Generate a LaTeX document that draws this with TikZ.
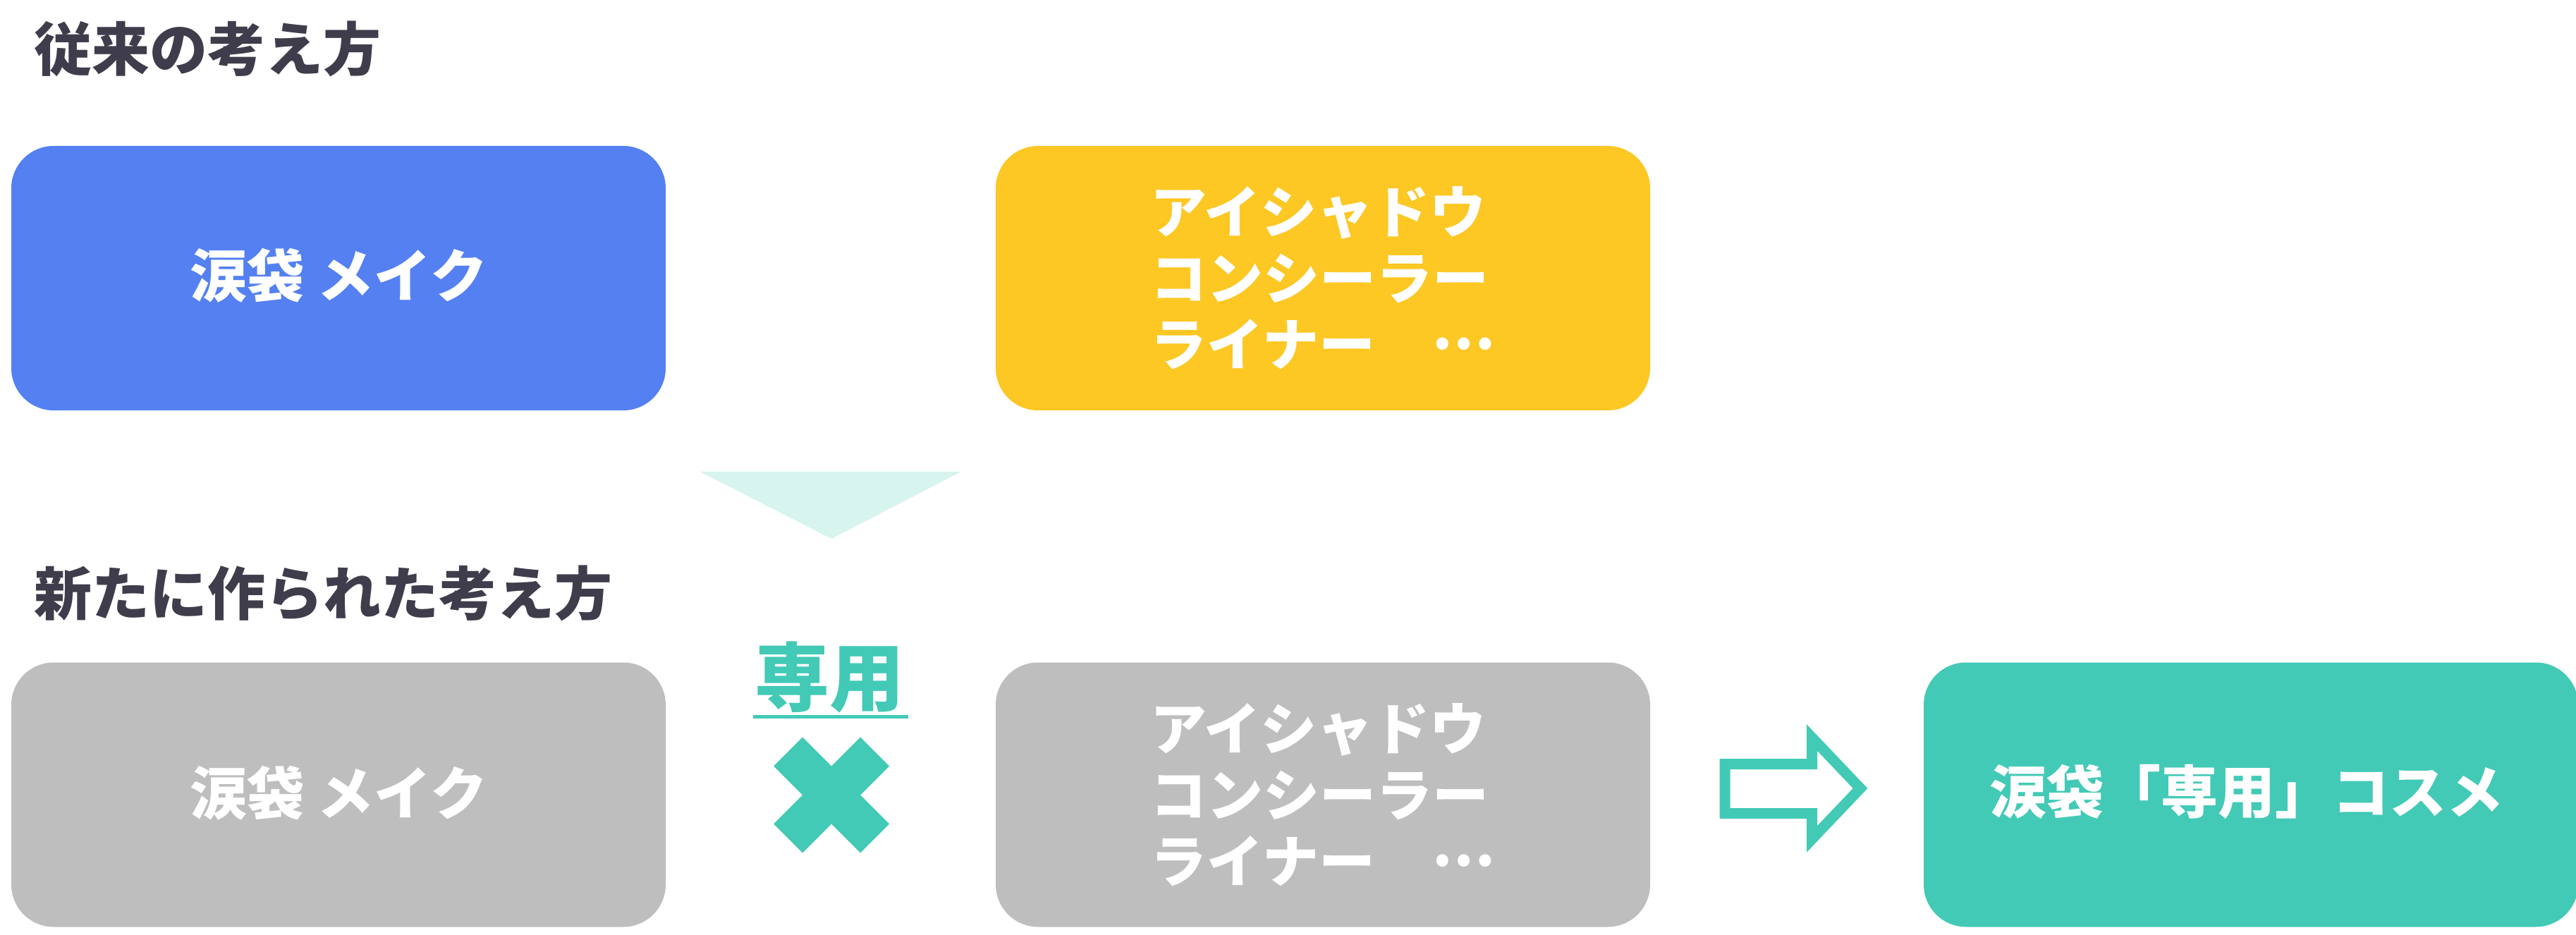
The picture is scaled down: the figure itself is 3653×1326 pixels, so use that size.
\documentclass[tikz,border=0pt]{standalone}
\usepackage{fontspec}
\setmainfont{Noto Sans CJK JP}
\newfontfamily\jp{Noto Sans CJK JP}
\definecolor{cblue}{HTML}{5480F2}
\definecolor{cyellow}{HTML}{FDC724}
\definecolor{cgray}{HTML}{BEBEBE}
\definecolor{cteal}{HTML}{42CAB6}
\definecolor{clight}{HTML}{D7F4EE}
\definecolor{ctitle}{HTML}{3F3D4B}
\newcommand{\midell}{\raisebox{0.29em}[0pt][0pt]{…}}
\tikzset{
  box/.style={rectangle, rounded corners=15pt, inner sep=0pt, outer sep=0pt,
              minimum width=232pt, minimum height=93.75pt, draw=none},
  title/.style={anchor=base west, inner sep=0pt, text=ctitle,
                font=\jp\bfseries\fontsize{20.5pt}{24pt}\selectfont},
  boxtext/.style={anchor=base, inner sep=0pt, text=white,
                font=\jp\bfseries\fontsize{20.25pt}{23.5pt}\selectfont},
  listtext/.style={anchor=center, inner sep=0pt, text=white, align=left,
                font=\jp\bfseries\fontsize{20pt}{23.5pt}\selectfont},
}
\begin{document}
\begin{tikzpicture}[x=0.25pt,y=-0.25pt]
\useasboundingbox (0,0) rectangle (3653,1326);
\fill[white] (0,0) rectangle (3653,1326);

% titles
\node[title] (t1) at (48,101) {従来の考え方};
\node[title] (t2) at (48,873) {新たに作られた考え方};

% top row
\node[box, fill=cblue] (b1) at (480,394.5) {};
\node[boxtext] (b1t) at (480,422) {涙袋 メイク};
\node[box, fill=cyellow] (b2) at (1876,394.5) {};
\node[listtext] (b2t) at (1876,394.5) {アイシャドウ\\コンシーラー\\ライナー　\midell};

% down triangle
\fill[clight] (993,669) -- (1363,669) -- (1179,764) -- cycle;

% bottom row
\node[box, fill=cgray] (g1) at (480,1127) {};
\node[boxtext] (g1t) at (480,1155) {涙袋 メイク};
\node[box, fill=cgray] (g2) at (1876,1127) {};
\node[listtext] (g2t) at (1876,1127) {アイシャドウ\\コンシーラー\\ライナー　\midell};

% label and cross
\node[anchor=base, inner sep=0pt, text=cteal,
      font=\jp\bfseries\fontsize{26.5pt}{30pt}\selectfont] (sen) at (1176,1000) {専用};
\fill[cteal] (1068,1014) rectangle (1288,1019);
\fill[cteal] (1179,1127.5) ++(0,-41) -- ++(41,-41) -- ++(41,41) -- ++(-41,41)
  -- ++(41,41) -- ++(-41,41) -- ++(-41,-41) -- ++(-41,41) -- ++(-41,-41)
  -- ++(41,-41) -- ++(-41,-41) -- ++(41,-41) -- cycle;

% hollow arrow
\draw[cteal, line width=3.75pt, fill=white, miter limit=10]
  (2446,1083.5) -- (2569.5,1083.5) -- (2569.5,1046) -- (2638,1118)
  -- (2569.5,1190) -- (2569.5,1153.5) -- (2446,1153.5) -- cycle;

% result box
\node[box, fill=cteal] (r) at (3192,1127) {};
\node[boxtext] (rt) at (3186,1153) {涙袋「専用」コスメ};
\end{tikzpicture}
\end{document}
